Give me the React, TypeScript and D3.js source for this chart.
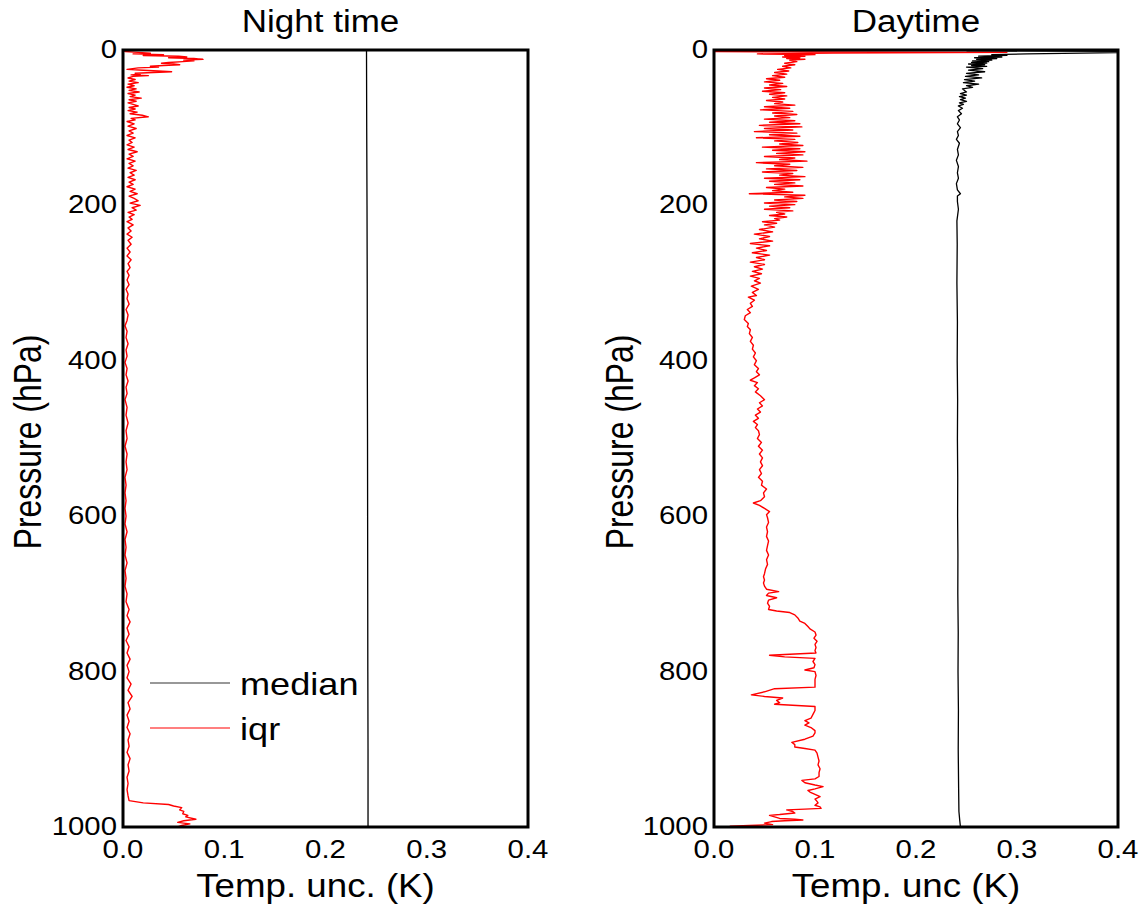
import React, { useEffect, useRef } from 'react';
import * as d3 from 'd3';

// [pressure hPa, temperature uncertainty K]
const nightIqr: [number, number][] = [
  [0, 0.0], [2, 0.002], [3, 0.015], [4, 0.027], [5, 0.01], [6, 0.04], [7, 0.02], [8, 0.055], [9, 0.063], [10, 0.045],
  [11, 0.07], [12, 0.079], [13, 0.06], [14, 0.07], [15, 0.059], [16, 0.045], [17, 0.038], [18, 0.05], [19, 0.056], [20, 0.04],
  [21, 0.027], [22, 0.035], [23, 0.015], [25, 0.004], [26, 0.02], [27, 0.035], [28, 0.048], [29, 0.03], [30, 0.012], [31, 0.017],
  [32, 0.008], [33, 0.025], [34, 0.01], [36, 0.005], [38, 0.012], [40, 0.006], [42, 0.015], [44, 0.005], [46, 0.011], [48, 0.004],
  [50, 0.013], [52, 0.006], [54, 0.016], [56, 0.005], [58, 0.012], [60, 0.007], [62, 0.018], [64, 0.006], [66, 0.013], [68, 0.005],
  [70, 0.01], [72, 0.015], [74, 0.006], [76, 0.012], [78, 0.005], [80, 0.014], [82, 0.007], [84, 0.019], [86, 0.025], [88, 0.008],
  [90, 0.012], [92, 0.004], [95, 0.011], [98, 0.005], [101, 0.013], [104, 0.006], [107, 0.01], [110, 0.004], [113, 0.012], [116, 0.006],
  [119, 0.009], [122, 0.004], [125, 0.011], [128, 0.005], [131, 0.014], [134, 0.006], [137, 0.01], [140, 0.004], [143, 0.012], [146, 0.006],
  [149, 0.01], [152, 0.005], [155, 0.013], [158, 0.007], [161, 0.011], [164, 0.005], [167, 0.012], [170, 0.006], [173, 0.01], [176, 0.004],
  [179, 0.012], [182, 0.007], [185, 0.014], [188, 0.006], [191, 0.011], [194, 0.015], [197, 0.007], [200, 0.017], [203, 0.009], [206, 0.013],
  [209, 0.005], [212, 0.011], [215, 0.006], [218, 0.009], [221, 0.004], [225, 0.01], [229, 0.005], [233, 0.008], [237, 0.004], [241, 0.009],
  [245, 0.005], [250, 0.008], [255, 0.004], [260, 0.007], [265, 0.004], [270, 0.008], [275, 0.005], [280, 0.007], [285, 0.004], [290, 0.006],
  [296, 0.004], [302, 0.006], [308, 0.003], [314, 0.005], [320, 0.004], [327, 0.006], [334, 0.003], [341, 0.005], [348, 0.004], [355, 0.002],
  [362, 0.004], [370, 0.003], [378, 0.005], [386, 0.003], [394, 0.004], [402, 0.002], [410, 0.004], [418, 0.003], [426, 0.005], [434, 0.003],
  [442, 0.004], [450, 0.002], [460, 0.004], [470, 0.003], [480, 0.005], [490, 0.003], [500, 0.004], [510, 0.002], [520, 0.004], [530, 0.003],
  [540, 0.004], [550, 0.002], [560, 0.003], [570, 0.002], [580, 0.003], [590, 0.002], [600, 0.003], [610, 0.002], [620, 0.004], [630, 0.002],
  [640, 0.003], [650, 0.002], [660, 0.004], [670, 0.002], [680, 0.003], [690, 0.002], [700, 0.004], [710, 0.003], [720, 0.006], [728, 0.004],
  [736, 0.007], [744, 0.004], [752, 0.006], [760, 0.003], [768, 0.006], [776, 0.004], [784, 0.007], [792, 0.004], [800, 0.006], [808, 0.004],
  [816, 0.008], [824, 0.005], [832, 0.009], [840, 0.005], [848, 0.007], [856, 0.004], [864, 0.006], [872, 0.004], [880, 0.007], [888, 0.005],
  [896, 0.006], [904, 0.004], [912, 0.007], [920, 0.005], [928, 0.006], [936, 0.004], [944, 0.005], [952, 0.004], [960, 0.005], [966, 0.006],
  [969, 0.02], [971, 0.045], [973, 0.05], [975, 0.058], [978, 0.056], [980, 0.06], [983, 0.059], [985, 0.064], [987, 0.062], [990, 0.072],
  [992, 0.06], [994, 0.054], [996, 0.066], [998, 0.058], [1000, 0.054],
];

const nightMedian: [number, number][] = [
  [0, 0.2405], [100, 0.2407], [200, 0.241], [300, 0.2412], [400, 0.2413], [500, 0.2415],
  [600, 0.2416], [700, 0.2417], [800, 0.2418], [900, 0.242], [1000, 0.242],
];

const dayIqr: [number, number][] = [
  [2, 0.0], [3, 0.29], [4, 0.118], [5, 0.043], [6, 0.1], [7, 0.07], [8, 0.09], [9, 0.068], [10, 0.085], [11, 0.072],
  [12, 0.09], [13, 0.075], [15, 0.082], [17, 0.07], [19, 0.08], [21, 0.068], [23, 0.076], [25, 0.063], [27, 0.074], [29, 0.06],
  [31, 0.072], [33, 0.058], [35, 0.07], [37, 0.052], [39, 0.065], [41, 0.05], [43, 0.068], [45, 0.055], [47, 0.072], [49, 0.05],
  [51, 0.066], [53, 0.048], [55, 0.07], [57, 0.055], [59, 0.072], [61, 0.058], [63, 0.07], [65, 0.052], [67, 0.068], [69, 0.06],
  [71, 0.08], [73, 0.05], [75, 0.075], [77, 0.046], [79, 0.078], [81, 0.058], [83, 0.082], [85, 0.06], [87, 0.075], [89, 0.05],
  [91, 0.08], [93, 0.055], [95, 0.085], [97, 0.045], [99, 0.087], [101, 0.05], [103, 0.078], [105, 0.04], [107, 0.082], [109, 0.055],
  [111, 0.085], [113, 0.042], [115, 0.08], [117, 0.06], [119, 0.083], [121, 0.065], [123, 0.088], [125, 0.048], [127, 0.085], [129, 0.058],
  [131, 0.09], [133, 0.062], [135, 0.088], [137, 0.05], [139, 0.08], [141, 0.065], [143, 0.092], [145, 0.042], [147, 0.075], [149, 0.06],
  [151, 0.088], [153, 0.052], [155, 0.082], [157, 0.048], [159, 0.078], [161, 0.065], [163, 0.09], [165, 0.05], [167, 0.085], [169, 0.055],
  [171, 0.08], [173, 0.06], [175, 0.088], [177, 0.052], [179, 0.07], [181, 0.058], [183, 0.078], [185, 0.035], [187, 0.09], [189, 0.07],
  [191, 0.088], [193, 0.06], [195, 0.082], [197, 0.05], [199, 0.08], [201, 0.055], [203, 0.075], [205, 0.05], [207, 0.078], [209, 0.062],
  [211, 0.07], [213, 0.055], [215, 0.072], [217, 0.06], [219, 0.065], [221, 0.048], [223, 0.062], [225, 0.05], [228, 0.06], [231, 0.045],
  [234, 0.058], [237, 0.04], [240, 0.055], [243, 0.045], [246, 0.058], [249, 0.036], [252, 0.055], [255, 0.042], [258, 0.052], [261, 0.038],
  [264, 0.055], [267, 0.042], [270, 0.05], [273, 0.036], [276, 0.05], [279, 0.04], [282, 0.048], [285, 0.038], [288, 0.047], [291, 0.036],
  [294, 0.045], [297, 0.04], [300, 0.046], [304, 0.037], [308, 0.044], [312, 0.038], [316, 0.042], [318, 0.034], [322, 0.04], [326, 0.036],
  [330, 0.038], [334, 0.033], [338, 0.036], [342, 0.031], [347, 0.03], [352, 0.034], [356, 0.033], [360, 0.036], [365, 0.035], [370, 0.038],
  [375, 0.036], [380, 0.039], [385, 0.038], [390, 0.041], [395, 0.039], [400, 0.042], [405, 0.04], [410, 0.044], [414, 0.042], [418, 0.045],
  [422, 0.04], [425, 0.036], [428, 0.043], [432, 0.04], [436, 0.044], [440, 0.041], [445, 0.046], [450, 0.05], [454, 0.045], [458, 0.048],
  [462, 0.043], [466, 0.046], [470, 0.041], [474, 0.044], [478, 0.039], [482, 0.043], [486, 0.041], [490, 0.044], [495, 0.045], [500, 0.043],
  [505, 0.047], [510, 0.044], [515, 0.048], [520, 0.045], [525, 0.048], [530, 0.046], [535, 0.048], [540, 0.045], [545, 0.047], [550, 0.044],
  [555, 0.048], [560, 0.047], [565, 0.052], [570, 0.049], [575, 0.05], [580, 0.046], [583, 0.039], [586, 0.045], [590, 0.05], [594, 0.055],
  [598, 0.052], [602, 0.053], [608, 0.054], [614, 0.052], [620, 0.053], [626, 0.052], [632, 0.054], [638, 0.053], [644, 0.052], [650, 0.054],
  [656, 0.052], [662, 0.053], [668, 0.051], [674, 0.05], [678, 0.049], [682, 0.05], [686, 0.049], [690, 0.05], [694, 0.052], [697, 0.064],
  [699, 0.054], [702, 0.052], [705, 0.062], [708, 0.054], [712, 0.053], [716, 0.055], [720, 0.054], [722, 0.062], [724, 0.075], [727, 0.08],
  [731, 0.083], [735, 0.085], [738, 0.09], [742, 0.093], [745, 0.095], [749, 0.1], [753, 0.101], [757, 0.099], [761, 0.102], [765, 0.1],
  [769, 0.101], [773, 0.1], [776, 0.101], [778, 0.07], [779, 0.055], [781, 0.07], [783, 0.1], [787, 0.098], [791, 0.1], [795, 0.099],
  [798, 0.09], [800, 0.1], [805, 0.101], [810, 0.1], [815, 0.1], [820, 0.1], [822, 0.06], [826, 0.05], [830, 0.037], [832, 0.05],
  [834, 0.068], [837, 0.062], [840, 0.065], [842, 0.06], [845, 0.1], [850, 0.1], [855, 0.098], [860, 0.096], [863, 0.09], [866, 0.094],
  [869, 0.09], [872, 0.096], [876, 0.1], [879, 0.1], [883, 0.098], [887, 0.09], [891, 0.077], [894, 0.08], [897, 0.08], [899, 0.09],
  [901, 0.1], [905, 0.102], [910, 0.103], [915, 0.104], [920, 0.103], [925, 0.105], [930, 0.104], [935, 0.104], [938, 0.1], [940, 0.087],
  [943, 0.09], [946, 0.1], [948, 0.108], [951, 0.1], [953, 0.093], [955, 0.095], [958, 0.1], [961, 0.105], [964, 0.1], [967, 0.102],
  [969, 0.103], [972, 0.1], [974, 0.105], [976, 0.106], [977, 0.09], [978, 0.072], [980, 0.078], [982, 0.08], [984, 0.065], [985, 0.055],
  [987, 0.06], [989, 0.065], [990, 0.08], [991, 0.088], [992, 0.07], [993, 0.057], [995, 0.05], [997, 0.058], [998, 0.035], [999, 0.016],
  [1000, 0.016],
];

const dayMedian: [number, number][] = [
  [1, 0.25], [2, 0.45], [3, 0.42], [5, 0.31], [6, 0.275], [7, 0.29], [8, 0.262], [9, 0.285], [10, 0.258], [11, 0.28],
  [12, 0.26], [13, 0.275], [14, 0.256], [15, 0.272], [16, 0.255], [17, 0.27], [18, 0.252], [19, 0.268], [20, 0.255], [21, 0.27],
  [22, 0.25], [24, 0.266], [26, 0.252], [28, 0.268], [30, 0.25], [32, 0.262], [34, 0.249], [36, 0.265], [38, 0.248], [40, 0.258],
  [42, 0.247], [44, 0.262], [46, 0.25], [48, 0.256], [50, 0.246], [52, 0.248], [54, 0.25], [56, 0.244], [58, 0.25], [60, 0.243],
  [62, 0.249], [64, 0.244], [66, 0.25], [68, 0.243], [70, 0.247], [72, 0.242], [75, 0.246], [78, 0.242], [82, 0.245], [86, 0.241],
  [90, 0.243], [95, 0.241], [100, 0.244], [105, 0.241], [110, 0.242], [115, 0.24], [120, 0.243], [128, 0.241], [135, 0.242], [142, 0.24],
  [150, 0.242], [158, 0.241], [165, 0.242], [172, 0.24], [180, 0.241], [185, 0.244], [188, 0.241], [195, 0.241], [205, 0.242], [220, 0.2405],
  [250, 0.2408], [300, 0.2405], [350, 0.241], [400, 0.2408], [450, 0.2412], [500, 0.241], [550, 0.2413], [600, 0.2412], [650, 0.2415], [700, 0.2414],
  [750, 0.2418], [800, 0.2416], [850, 0.242], [900, 0.2418], [950, 0.2422], [980, 0.2425], [990, 0.2432], [1000, 0.244],
];

const xTicks = [0, 0.1, 0.2, 0.3, 0.4];
const yTicks = [0, 200, 400, 600, 800, 1000];
const legendItems = [
  { label: 'median', color: '#333333' },
  { label: 'iqr', color: '#ff0000' },
];

const W = 1143;
const H = 911;
const FONT = '"Liberation Sans", Arial, sans-serif';
const SX = 1.13; // the source picture is slightly stretched horizontally

const panels = [
  { id: 'night', left: 123, right: 528, title: 'Night time', titleShift: -5, xLabel: 'Temp. unc. (K)', yLabelX: 41, iqr: nightIqr, median: nightMedian, legend: true },
  { id: 'day', left: 714, right: 1118, title: 'Daytime', titleShift: 0, xLabel: 'Temp. unc (K)', yLabelX: 633, iqr: dayIqr, median: dayMedian, legend: false },
];

const App = () => {
  const svgRef = useRef<SVGSVGElement>(null);

  useEffect(() => {
    const svg = d3.select(svgRef.current);
    svg.selectAll('*').remove();

    const top = 50;
    const bottom = 827;

    const stretchText = (g: any, x: number, y: number, text: string, size: number, anchor = 'middle', sx = SX) =>
      g.append('text')
        .attr('transform', `translate(${x},${y}) scale(${sx},1)`)
        .attr('text-anchor', anchor)
        .style('font-family', FONT)
        .style('font-size', `${size}px`)
        .attr('fill', '#000')
        .text(text);

    panels.forEach(p => {
      const x = d3.scaleLinear().domain([0, 0.4]).range([p.left, p.right]);
      const y = d3.scaleLinear().domain([0, 1000]).range([top, bottom]);

      const g = svg.append('g');

      const clipId = `clip-${p.id}`;
      svg.append('defs').append('clipPath').attr('id', clipId)
        .append('rect')
        .attr('x', p.left).attr('y', top)
        .attr('width', p.right - p.left).attr('height', bottom - top);

      const line = d3.line<[number, number]>()
        .x(d => x(d[1]))
        .y(d => y(d[0]));

      const lines = g.append('g').attr('clip-path', `url(#${clipId})`);
      lines.append('path')
        .datum(p.median)
        .attr('d', line)
        .attr('fill', 'none')
        .attr('stroke', '#000')
        .attr('stroke-width', 1.3)
        .attr('stroke-linejoin', 'round');
      lines.append('path')
        .datum(p.iqr)
        .attr('d', line)
        .attr('fill', 'none')
        .attr('stroke', '#ff0000')
        .attr('stroke-width', 1.4)
        .attr('stroke-linejoin', 'round');

      // frame
      g.append('rect')
        .attr('x', p.left).attr('y', top)
        .attr('width', p.right - p.left).attr('height', bottom - top)
        .attr('fill', 'none')
        .attr('stroke', '#000')
        .attr('stroke-width', 3);

      xTicks.forEach(t => {
        stretchText(g, x(t), 858, d3.format('.1f')(t), 26);
      });
      yTicks.forEach(t => {
        stretchText(g, p.left - 6, y(t) + 8, String(t), 26, 'end');
      });

      stretchText(g, (p.left + p.right) / 2 + p.titleShift, 32, p.title, 31);
      stretchText(g, (p.left + p.right) / 2 - 10, 897, p.xLabel, 32.5);

      g.append('text')
        .attr('transform', `translate(${p.yLabelX},442) rotate(-90) scale(1.03,1.25)`)
        .attr('text-anchor', 'middle')
        .style('font-family', FONT)
        .style('font-size', '31px')
        .text('Pressure (hPa)');

      if (p.legend) {
        legendItems.forEach((item, i) => {
          const ly = 683 + i * 45;
          g.append('line')
            .attr('x1', 150).attr('x2', 230)
            .attr('y1', ly).attr('y2', ly)
            .attr('stroke', item.color)
            .attr('stroke-width', 1.2);
          stretchText(g, 240, ly + 12, item.label, 32, 'start');
        });
      }
    });
  }, []);

  return (
    <svg
      ref={svgRef}
      width={W}
      height={H}
      style={{ position: 'absolute', left: 0, top: 0, background: '#fff' }}
    />
  );
};

export default App;
